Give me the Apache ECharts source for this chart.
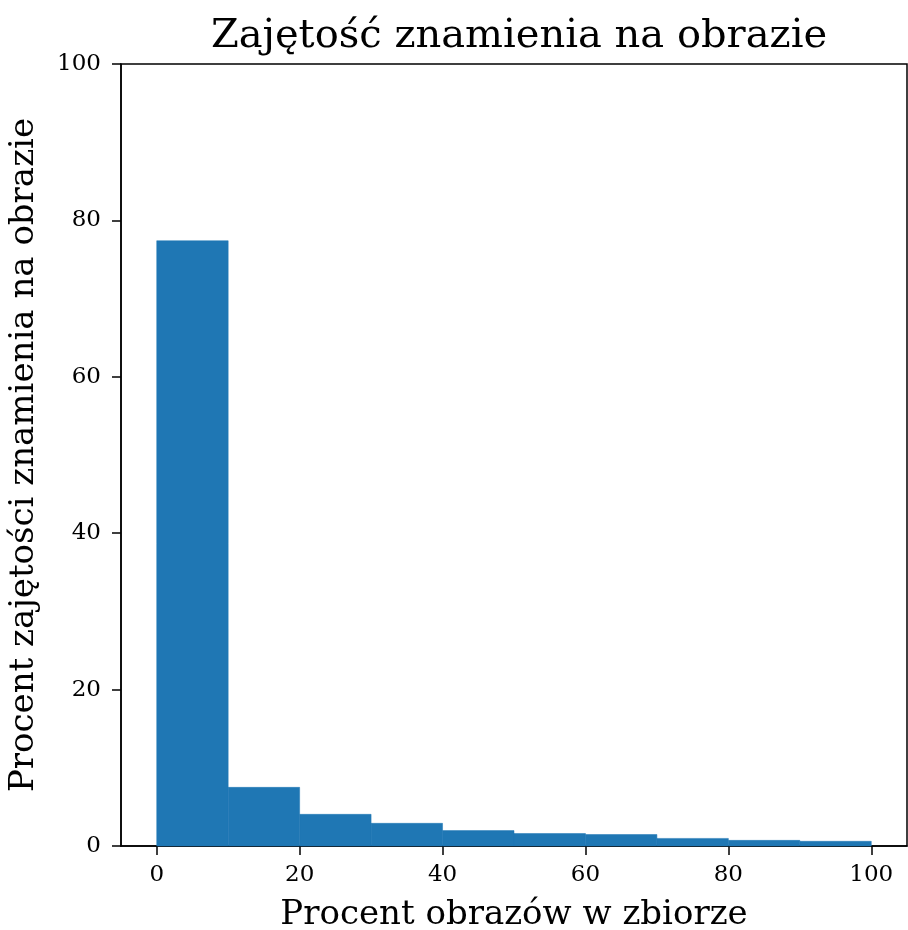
<!doctype html>
<html lang="pl">
<head>
  <meta charset="utf-8">
  <title>Zajętość znamienia na obrazie</title>
  <script src="https://cdn.jsdelivr.net/npm/echarts@6.0.0/dist/echarts.min.js"></script>
  <style>
    html, body { margin: 0; padding: 0; background: #fff; }
    #chart { width: 908px; height: 930px; }
  </style>
</head>
<body>
  <div id="chart"></div>
  <script>
    // krawedzie przedzialow histogramu
    var binStart = [0, 10, 20, 30, 40, 50, 60, 70, 80, 90];
    var binEnd = [10, 20, 30, 40, 50, 60, 70, 80, 90, 100];
    // wysokosci slupkow
    var heights = [77.4, 7.5, 4.05, 2.9, 1.97, 1.6, 1.47, 0.97, 0.72, 0.6];
    var xTicks = [0, 20, 40, 60, 80, 100];

    var data = [];
    for (var i = 0; i < heights.length; i++) {
      data.push([binStart[i], binEnd[i], heights[i]]);
    }

    var font = 'DejaVu Serif';
    var chart = echarts.init(document.getElementById('chart'));

    var option = {
      animation: false,
      title: {
        text: 'Zajętość znamienia na obrazie',
        left: 514,
        textAlign: 'center',
        top: 12,
        textStyle: { fontFamily: font, fontSize: 40, fontWeight: 'normal', color: '#000' }
      },
      // obszar wykresu: 121..907 x 64..846
      grid: {
        left: 121, top: 64, width: 786, height: 782,
        outerBoundsMode: 'none', containLabel: false,
        show: true, borderColor: '#000', borderWidth: 1.5, backgroundColor: 'transparent'
      },
      xAxis: {
        type: 'value',
        min: -5,
        max: 105,
        name: 'Procent obrazów w zbiorze',
        nameLocation: 'middle',
        nameGap: 52,
        nameTextStyle: { fontFamily: font, fontSize: 34, color: '#000' },
        splitLine: { show: false },
        axisLine: { onZero: false, lineStyle: { color: '#000', width: 1.5 } },
        axisTick: { customValues: xTicks, length: 9, lineStyle: { color: '#000', width: 1.5 } },
        axisLabel: { customValues: xTicks, margin: 18, fontFamily: font, fontSize: 23, color: '#000' }
      },
      yAxis: {
        type: 'value',
        min: 0,
        max: 100,
        interval: 20,
        name: 'Procent zajętości znamienia na obrazie',
        nameLocation: 'middle',
        nameGap: 80,
        nameTextStyle: { fontFamily: font, fontSize: 34, color: '#000' },
        splitLine: { show: false },
        axisLine: { show: true, onZero: false, lineStyle: { color: '#000', width: 1.5 } },
        axisTick: { show: true, length: 9, lineStyle: { color: '#000', width: 1.5 } },
        axisLabel: { margin: 20, fontFamily: font, fontSize: 23, color: '#000' }
      },
      series: [{
        type: 'custom',
        data: data,
        encode: { x: [0, 1], y: 2 },
        renderItem: function (params, api) {
          var p0 = api.coord([api.value(0), 0]);
          var p1 = api.coord([api.value(1), api.value(2)]);
          return {
            type: 'rect',
            shape: { x: p0[0], y: p1[1], width: p1[0] - p0[0], height: p0[1] - p1[1] },
            style: { fill: '#1f77b4', stroke: '#1f77b4', lineWidth: 0.5 }
          };
        }
      }]
    };
    chart.setOption(option);
  </script>
</body>
</html>
